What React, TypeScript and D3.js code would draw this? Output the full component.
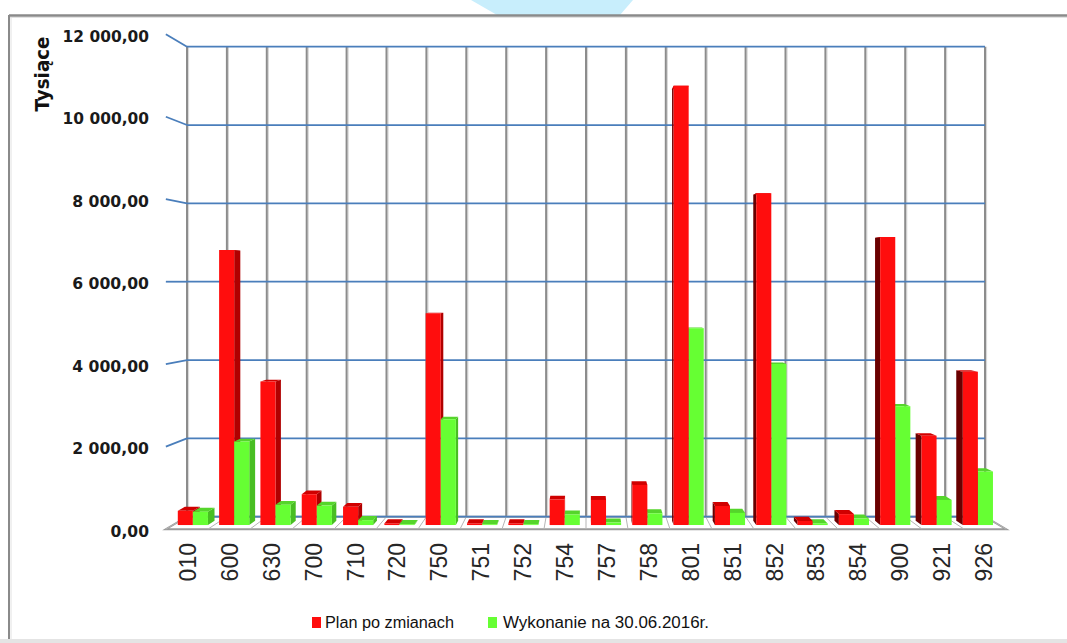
import React from 'react';
import * as d3 from 'd3';

// działy budżetowe
const categories = ['010', '600', '630', '700', '710', '720', '750', '751', '752', '754', '757', '758', '801', '851', '852', '853', '854', '900', '921', '926'];
const planValues = [350, 6780, 3540, 760, 450, 40, 5220, 40, 40, 630, 620, 990, 10830, 470, 8180, 100, 270, 7100, 2200, 3780];
const execValues = [330, 2060, 500, 480, 120, 20, 2610, 20, 20, 260, 60, 290, 4850, 300, 3970, 40, 160, 2930, 620, 1320];
const yTicks = [0, 2000, 4000, 6000, 8000, 10000, 12000];
const seriesNames = ['Plan po zmianach', 'Wykonanie na 30.06.2016r.'];

const width = 1067;
const height = 643;

const plLocale = d3.formatLocale({ decimal: ',', thousands: ' ', grouping: [3], currency: ['', ' zł'] });
const fmt = plLocale.format(',.2f');

const xScale = d3.scaleBand<string>().domain(categories).range([187, 985]).padding(0);
const yScale = d3.scaleLinear().domain([0, 12000]).range([516.7, 46.7]);

// prosta perspektywa jak w wykresie 3D Excela
const vpx = 586;
const vpy = yScale(6000);
const K = 0.053;
const proj = (x: number, y: number, z: number): [number, number] => {
  const s = 1 + K * z;
  return [vpx + (x - vpx) * s, vpy + (y - vpy) * s];
};
const pts = (arr: [number, number][]) => arr.map((p) => p.join(',')).join(' ');

const colors = {
  plan: { front: '#FF0D0D', right: '#B00000', left: '#6A0000', top: '#D00000' },
  exec: { front: '#66FF33', right: '#48BE22', left: '#358C18', top: '#55D52B' },
};

type Bar = { key: string; xl: number; xr: number; v: number; c: typeof colors.plan };

const App: React.FC = () => {
  const bw = xScale.bandwidth();
  const y0 = yScale(0);
  const zb = 0.33;
  const zf = 0.67;

  const bars: Bar[] = [];
  categories.forEach((cat, i) => {
    const x0 = xScale(cat)!;
    bars.push({ key: 'p' + cat, xl: x0 + 0.12 * bw, xr: x0 + 0.485 * bw, v: planValues[i], c: colors.plan });
    bars.push({ key: 'e' + cat, xl: x0 + 0.485 * bw, xr: x0 + 0.85 * bw, v: execValues[i], c: colors.exec });
  });
  // rysuj od najdalszych od punktu zbiegu
  bars.sort((a, b) => Math.abs((b.xl + b.xr) / 2 - vpx) - Math.abs((a.xl + a.xr) / 2 - vpx));

  const gridX = d3.range(categories.length + 1).map((i) => 187 + i * bw);
  const xLeft = 187;
  const xRight = 985;

  return (
    <svg width={width} height={height} style={{ position: 'absolute', left: 0, top: 0, background: '#fff' }}>
      {/* ozdobny kształt u góry */}
      <polygon points="471,0 633,0 620,15 497,15" fill="#C8EEFC" />
      {/* ramka wykresu */}
      <line x1={9} y1={15.5} x2={width} y2={15.5} stroke="#8A8A8A" strokeWidth={2.5} />
      <line x1={10} y1={17.5} x2={width} y2={17.5} stroke="#E2E2E2" strokeWidth={1} />
      <line x1={9} y1={15} x2={9} y2={height} stroke="#8A8A8A" strokeWidth={2} />
      <line x1={11} y1={17} x2={11} y2={height} stroke="#E2E2E2" strokeWidth={1} />
      <rect x={0} y={639} width={width} height={4} fill="#E4E4E4" />

      {/* podłoga */}
      <polygon
        points={pts([proj(xLeft, y0, 0), proj(xRight, y0, 0), proj(xRight, y0, 1), proj(xLeft, y0, 1)])}
        fill="#fff"
        stroke="#9A9A9A"
        strokeWidth={2}
      />
      {gridX.map((x, i) => {
        const a = proj(x, y0, 0);
        const b = proj(x, y0, 1);
        return <line key={'fl' + i} x1={a[0]} y1={a[1]} x2={b[0]} y2={b[1]} stroke="#B5B5B5" strokeWidth={1} />;
      })}

      {/* linie siatki: pionowe szare */}
      {gridX.map((x, i) => (
        <g key={'gx' + i}>
          <line x1={x + 1.6} y1={yScale(12000)} x2={x + 1.6} y2={y0} stroke="#D6D6D6" strokeWidth={1} />
          <line x1={x} y1={yScale(12000)} x2={x} y2={y0} stroke="#8C8C8C" strokeWidth={2} />
        </g>
      ))}
      {/* linie siatki: poziome niebieskie + ściana boczna */}
      {yTicks.map((t) => {
        const y = yScale(t);
        const f = proj(xLeft, y, 1);
        const label = fmt(t);
        return (
          <g key={'gy' + t}>
            <line x1={xLeft} y1={y} x2={xRight} y2={y} stroke="#4A7EBB" strokeWidth={1.8} />
            {t > 0 && <line x1={f[0]} y1={f[1]} x2={xLeft} y2={y} stroke="#4A7EBB" strokeWidth={1.8} />}
            <text
              x={149}
              y={f[1] + 2.5}
              textAnchor="end"
              dominantBaseline="central"
              fontFamily="'DejaVu Sans', sans-serif"
              fontWeight="bold"
              fontSize={15}
              textLength={label.length * 9.6}
              lengthAdjust="spacingAndGlyphs"
              fill="#1a1a1a"
            >
              {label}
            </text>
          </g>
        );
      })}

      {/* słupki 3D */}
      {bars.map((b) => {
        const yt = yScale(b.v);
        const leftOfVp = (b.xl + b.xr) / 2 < vpx;
        const sx = leftOfVp ? b.xr : b.xl;
        const side = [proj(sx, yt, zf), proj(sx, yt, zb), proj(sx, y0, zb), proj(sx, y0, zf)];
        const top = [proj(b.xl, yt, zf), proj(b.xr, yt, zf), proj(b.xr, yt, zb), proj(b.xl, yt, zb)];
        const front = [proj(b.xl, yt, zf), proj(b.xr, yt, zf), proj(b.xr, y0, zf), proj(b.xl, y0, zf)];
        return (
          <g key={b.key}>
            <polygon points={pts(side)} fill={leftOfVp ? b.c.right : b.c.left} />
            <polygon points={pts(top)} fill={b.c.top} />
            <polygon points={pts(front)} fill={b.c.front} />
          </g>
        );
      })}

      {/* etykiety osi X */}
      {categories.map((cat) => {
        const c = proj(xScale(cat)! + bw / 2, y0, 0.95);
        return (
          <text
            key={'xl' + cat}
            transform={`translate(${c[0]},543) rotate(-90)`}
            textAnchor="end"
            dominantBaseline="central"
            fontFamily="'Liberation Sans', Arial, sans-serif"
            fontSize={23}
            fill="#262626"
          >
            {cat}
          </text>
        );
      })}

      {/* tytuł osi Y */}
      <text
        transform="translate(49,74) rotate(-90)"
        textAnchor="middle"
        fontFamily="'DejaVu Sans', sans-serif"
        fontWeight="bold"
        fontSize={19}
        textLength={75}
        lengthAdjust="spacingAndGlyphs"
        fill="#111"
      >
        Tysiące
      </text>

      {/* legenda */}
      <rect x={312} y={617} width={9} height={11} fill={colors.plan.front} />
      <text
        x={325}
        y={628}
        fontFamily="'Liberation Sans', Arial, sans-serif"
        fontSize={16}
        textLength={129}
        lengthAdjust="spacingAndGlyphs"
        fill="#111"
      >
        {seriesNames[0]}
      </text>
      <rect x={488} y={617} width={9} height={11} fill={colors.exec.front} />
      <text
        x={503}
        y={628}
        fontFamily="'Liberation Sans', Arial, sans-serif"
        fontSize={16}
        textLength={206}
        lengthAdjust="spacingAndGlyphs"
        fill="#111"
      >
        {seriesNames[1]}
      </text>
    </svg>
  );
};

export default App;
